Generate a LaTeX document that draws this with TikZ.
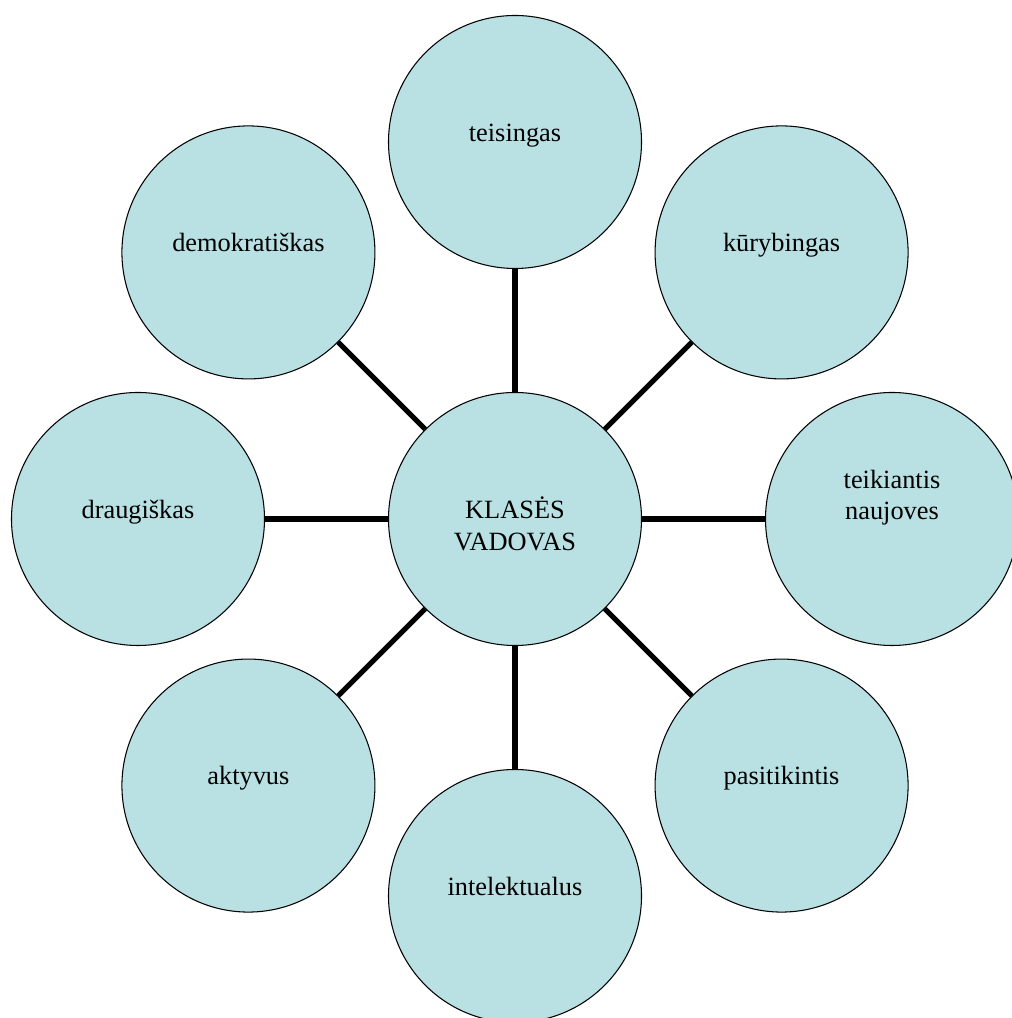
\documentclass[tikz,border=0pt]{standalone}
\usepackage{fontspec}
\setmainfont{Liberation Serif}
\definecolor{bubbleBlue}{HTML}{B9E0E3}
\usetikzlibrary{
  positioning,
  calc
}
\tikzset{
  bubble/.style={circle, draw=black, line width=0.6pt, fill=bubbleBlue,
    minimum size=5.06cm, inner sep=0pt, align=center,
    font=\fontsize{15}{18}\selectfont},
  oneline/.style={text height=11pt, text depth=12pt},
  spoke/.style={line width=3pt}
}

\begin{document}
\begin{tikzpicture}
      \def\rad{7.54};

      % 枠
      \useasboundingbox (0,0) rectangle (20.22,20.36);

      % 中心
      \coordinate (O) at (10.30,9.98);
      \node[bubble, text height=36pt, text depth=0pt] (hub) at (O) {KLASĖS\\VADOVAS};

      % 周りの円
      \node[bubble, oneline] (fair)      at ($(O)+(90:\rad)$)  {teisingas};
      \node[bubble, oneline] (creative)  at ($(O)+(45:\rad)$)  {kūrybingas};
      \node[bubble, text height=28pt, text depth=27pt] (innov) at ($(O)+(0:\rad)$) {teikiantis\\naujoves};
      \node[bubble, oneline] (confident) at ($(O)+(-45:\rad)$) {pasitikintis};
      \node[bubble, oneline] (intel)     at ($(O)+(-90:\rad)$) {intelektualus};
      \node[bubble, oneline] (active)    at ($(O)+(-135:\rad)$) {aktyvus};
      \node[bubble, oneline] (friendly)  at ($(O)+(180:\rad)$) {draugiškas};
      \node[bubble, oneline] (democ)     at ($(O)+(135:\rad)$) {demokratiškas};

      % 線
      \foreach \n in {fair, creative, innov, confident, intel, active, friendly, democ}
        \draw[spoke] (hub) -- (\n);
\end{tikzpicture}
\end{document}
